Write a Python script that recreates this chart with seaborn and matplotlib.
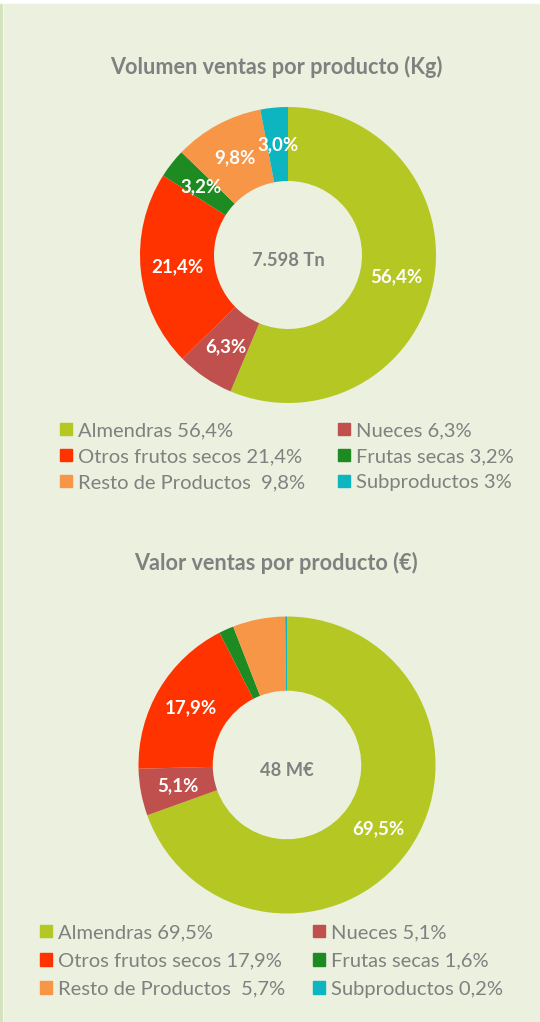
import matplotlib
matplotlib.use('Agg')
import matplotlib.pyplot as plt
import matplotlib.patches as mpatches
import seaborn as sns

sns.set_theme(style="white")
plt.rcParams['font.family'] = ['Lato', 'DejaVu Sans']

# Datos
productos = ['Almendras', 'Nueces', 'Otros frutos secos', 'Frutas secas',
             'Resto de Productos', 'Subproductos']
volumen_pct = [56.4, 6.3, 21.4, 3.2, 9.8, 3.0]
valor_pct = [69.5, 5.1, 17.9, 1.6, 5.7, 0.2]
# en el gráfico de valor sólo se rotulan los tres primeros sectores
volumen_rotulo = [True, True, True, True, True, True]
valor_rotulo = [True, True, True, False, False, False]
leyenda_volumen = ['Almendras 56,4%', 'Nueces 6,3%', 'Otros frutos secos 21,4%',
                   'Frutas secas 3,2%', 'Resto de Productos  9,8%', 'Subproductos 3%']
leyenda_valor = ['Almendras 69,5%', 'Nueces 5,1%', 'Otros frutos secos 17,9%',
                 'Frutas secas 1,6%', 'Resto de Productos  5,7%', 'Subproductos 0,2%']
colores = ['#B5C722', '#C0504D', '#FF3300', '#1E8B22', '#F79646', '#0DB5C0']

FONDO = '#EBF0DF'
GRIS = '#808080'
W, H = 540, 1022

fig = plt.figure(figsize=(W / 100, H / 100), dpi=100)
fig.patch.set_facecolor('white')
# fondo y borde izquierdo
fig.add_artist(mpatches.Rectangle((4 / W, 0), 1, 1 - 4 / H, transform=fig.transFigure,
                                  color=FONDO, zorder=-10))
fig.add_artist(mpatches.Rectangle((0, 0), 2 / W, 1 - 4 / H, transform=fig.transFigure,
                                  color='#D5E3BE', zorder=-10))


def donut(cx, cy, r, valores, rotulos, centro):
    ax = fig.add_axes([(cx - r) / W, (H - cy - r) / H, 2 * r / W, 2 * r / H])
    ax.set_facecolor('none')
    textos = iter([f'{v:.1f}%'.replace('.', ',') if m else ''
                   for v, m in zip(valores, rotulos)])

    ax.pie(valores, colors=colores, startangle=90, counterclock=False,
           radius=1, wedgeprops=dict(width=0.5, linewidth=0),
           autopct=lambda p: next(textos), pctdistance=0.75,
           textprops=dict(color='white', fontsize=13.5, fontweight='bold'))
    ax.text(0, -0.035, centro, ha='center', va='center', color=GRIS,
            fontsize=13.2, fontweight='bold')
    ax.set_xlim(-1, 1)
    ax.set_ylim(-1, 1)
    ax.set_aspect('equal')
    ax.axis('off')


def leyenda(etiquetas, x1, x2, ytop, espacio):
    handles = [mpatches.Patch(color=c) for c in colores]
    for idx, x in [([0, 2, 4], x1), ([1, 3, 5], x2)]:
        fig.legend([handles[i] for i in idx], [etiquetas[i] for i in idx],
                   loc='upper left', bbox_to_anchor=(x / W, 1 - ytop / H),
                   frameon=False, fontsize=14.5, labelcolor=GRIS,
                   handlelength=0.6, handleheight=0.6, handletextpad=0.3,
                   labelspacing=espacio, borderpad=0, borderaxespad=0)


# Gráfico 1 - Volumen
fig.text(276 / W, 1 - 67 / H, 'Volumen ventas por producto (Kg)', ha='center',
         va='center', color=GRIS, fontsize=15.6, fontweight='bold')
donut(288, 255, 148, volumen_pct, volumen_rotulo, '7.598 Tn')
leyenda(leyenda_volumen, 60, 338, 422, 0.45)

# Gráfico 2 - Valor
fig.text(276 / W, 1 - 563 / H, 'Valor ventas por producto (€)', ha='center',
         va='center', color=GRIS, fontsize=15.6, fontweight='bold')
donut(287, 765, 148.5, valor_pct, valor_rotulo, '48 M€')
leyenda(leyenda_valor, 40, 313, 924, 0.56)

fig.savefig('out.png', dpi=100, facecolor=fig.get_facecolor())
